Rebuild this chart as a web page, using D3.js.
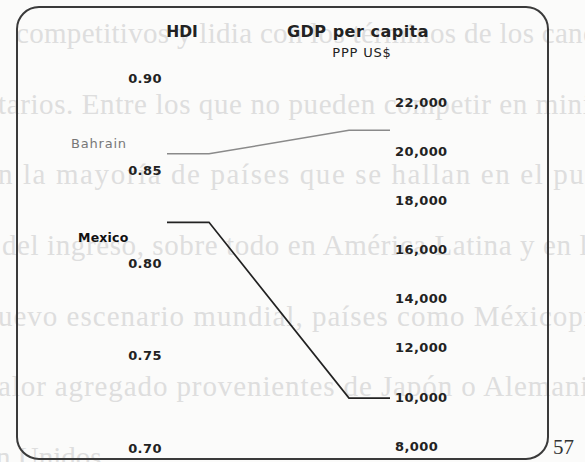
<!DOCTYPE html>
<html>
<head>
<meta charset="utf-8">
<script src="https://cdn.jsdelivr.net/npm/d3@7"></script>
<style>
  html, body { margin: 0; padding: 0; background: #fbfbfa; }
  svg { display: block; }
</style>
</head>
<body>
<div id="chart"></div>
<script>
// data
const countries = ['Bahrain', 'Mexico'];
const hdiValues = [0.859, 0.822];
const gdpValues = [20850, 9950];
const hdiTicks = [0.90, 0.85, 0.80, 0.75, 0.70];
const gdpTicks = [22000, 20000, 18000, 16000, 14000, 12000, 10000, 8000];

// faint book text showing through the scan
const pageLines = [
  'competitivos y lidia con los términos de los canon',
  'tarios. Entre los que no pueden competir en mini',
  'n la mayoría de países que se hallan en el pu',
  'del ingreso, sobre todo en América Latina y en l',
  'uevo escenario mundial, países como Méxicopro',
  'alor agregado provenientes de Japón o Alemania',
  'n Unidos.'
];
const pageNumber = '57';

const width = 585;
const height = 462;

const layout = {
  lineX: [167, 209, 349, 390],
  hdiLabelX: 145,
  gdpLabelX: 395,
  labelX: [71, 78],
  labelDy: [-10, 15],
  pageX: [16, -2, -2, 2, -2, -2, -4],
  pageSpacing: [0.3, 0.6, 1.6, 0.6, 1, 0.9, 0]
};

const styles = {
  Bahrain: { stroke: '#8a8a8a', width: 1.5, label: '#777', weight: 'normal', size: 13, spacing: 0.8 },
  Mexico: { stroke: '#222', width: 1.7, label: '#111', weight: 'bold', size: 12.5, spacing: 0.2 }
};

const svg = d3.select('#chart').append('svg')
  .attr('width', width)
  .attr('height', height);

svg.append('rect')
  .attr('width', width)
  .attr('height', height)
  .attr('fill', '#fbfbfa');

// background page text
const pageY = d3.scaleLinear().domain([0, pageLines.length - 1]).range([43, 467]);
svg.append('g')
  .selectAll('text')
  .data(pageLines)
  .enter().append('text')
  .attr('x', (d, i) => layout.pageX[i])
  .attr('y', (d, i) => pageY(i))
  .style('font-family', '"Liberation Serif", "DejaVu Serif", serif')
  .style('font-size', '29px')
  .style('letter-spacing', (d, i) => layout.pageSpacing[i] + 'px')
  .style('fill', '#dedede')
  .text(d => d);

svg.append('text')
  .attr('x', 553)
  .attr('y', 454)
  .style('font-family', '"Liberation Serif", serif')
  .style('font-size', '21px')
  .style('fill', '#333')
  .text(pageNumber);

// the framed chart box
svg.append('rect')
  .attr('x', 17)
  .attr('y', 7)
  .attr('width', 531)
  .attr('height', 452)
  .attr('rx', 22)
  .attr('ry', 22)
  .attr('fill', 'none')
  .attr('stroke', '#3a3a3a')
  .attr('stroke-width', 2);

const hdiScale = d3.scaleLinear().domain([0.70, 0.90]).range([448, 78]);
const gdpScale = d3.scaleLinear().domain([8000, 22000]).range([446, 102]);

const font = '"DejaVu Sans", Verdana, sans-serif';

// titles
svg.append('text')
  .attr('x', 182).attr('y', 37)
  .attr('text-anchor', 'middle')
  .style('font-family', font).style('font-size', '15.5px').style('font-weight', 'bold')
  .style('fill', '#222')
  .text('HDI');

svg.append('text')
  .attr('x', 358).attr('y', 37)
  .attr('text-anchor', 'middle')
  .style('font-family', font).style('font-size', '16px').style('font-weight', 'bold')
  .style('letter-spacing', '0.5px')
  .style('fill', '#222')
  .text('GDP per capita');

svg.append('text')
  .attr('x', 362).attr('y', 57)
  .attr('text-anchor', 'middle')
  .style('font-family', font).style('font-size', '13px')
  .style('letter-spacing', '0.8px')
  .style('fill', '#222')
  .text('PPP US$');

// axes: labels only
const hdiAxis = svg.append('g')
  .attr('transform', `translate(${layout.hdiLabelX},0)`)
  .call(d3.axisLeft(hdiScale).tickValues(hdiTicks).tickFormat(d3.format('.2f')).tickSize(0).tickPadding(0));

const gdpAxis = svg.append('g')
  .attr('transform', `translate(${layout.gdpLabelX},0)`)
  .call(d3.axisRight(gdpScale).tickValues(gdpTicks).tickFormat(d3.format(',')).tickSize(0).tickPadding(0));

[hdiAxis, gdpAxis].forEach(axis => {
  axis.select('.domain').remove();
  axis.selectAll('text')
    .style('font-family', font)
    .style('font-size', '13px')
    .style('font-weight', 'bold')
    .style('letter-spacing', '0.4px')
    .style('fill', '#222');
});
hdiAxis.selectAll('text').attr('text-anchor', 'middle');

// slope lines
const rows = countries.map((c, i) => ({ name: c, hdi: hdiValues[i], gdp: gdpValues[i], i: i }));

const line = d3.line();
svg.append('g')
  .selectAll('path')
  .data(rows)
  .enter().append('path')
  .attr('d', d => line([
    [layout.lineX[0], hdiScale(d.hdi)],
    [layout.lineX[1], hdiScale(d.hdi)],
    [layout.lineX[2], gdpScale(d.gdp)],
    [layout.lineX[3], gdpScale(d.gdp)]
  ]))
  .attr('fill', 'none')
  .attr('stroke', d => styles[d.name].stroke)
  .attr('stroke-width', d => styles[d.name].width);

svg.append('g')
  .selectAll('text')
  .data(rows)
  .enter().append('text')
  .attr('x', d => layout.labelX[d.i])
  .attr('y', d => hdiScale(d.hdi) + layout.labelDy[d.i])
  .attr('dy', '0.35em')
  .style('font-family', font)
  .style('font-size', d => styles[d.name].size + 'px')
  .style('font-weight', d => styles[d.name].weight)
  .style('letter-spacing', d => styles[d.name].spacing + 'px')
  .style('fill', d => styles[d.name].label)
  .text(d => d.name);
</script>
</body>
</html>
